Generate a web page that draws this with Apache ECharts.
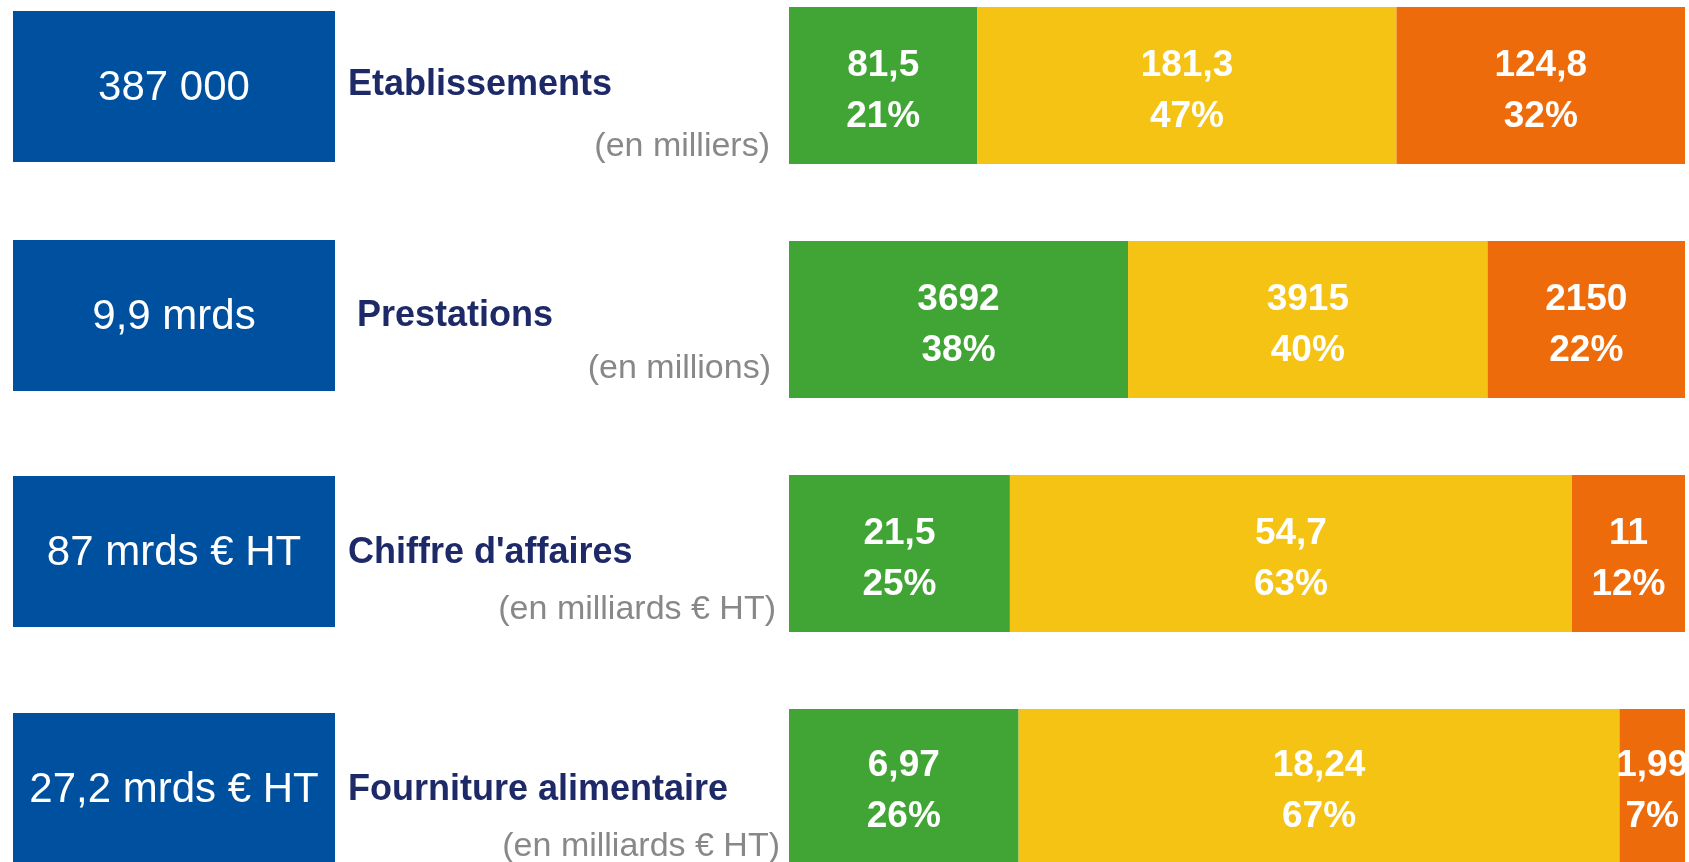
<!DOCTYPE html>
<html>
<head>
<meta charset="utf-8">
<script src="https://cdn.jsdelivr.net/npm/echarts@6/dist/echarts.min.js"></script>
<style>
html, body { margin: 0; padding: 0; background: #fff; }
#main { width: 1689px; height: 862px; }
</style>
</head>
<body>
<div id="main"></div>
<script>
// chiffres clés
var totals = ['387 000', '9,9 mrds', '87 mrds € HT', '27,2 mrds € HT'];
var categories = ['Etablissements', 'Prestations', "Chiffre d'affaires", 'Fourniture alimentaire'];
var units = ['(en milliers)', '(en millions)', '(en milliards € HT)', '(en milliards € HT)'];

// répartition par segment (vert / jaune / orange)
var greenValues = [81.5, 3692, 21.5, 6.97];
var yellowValues = [181.3, 3915, 54.7, 18.24];
var orangeValues = [124.8, 2150, 11, 1.99];
var greenPct = [21, 38, 25, 26];
var yellowPct = [47, 40, 63, 67];
var orangePct = [32, 22, 12, 7];

var FONT = '"Liberation Sans", Arial, sans-serif';
var barTops = [7, 241, 475, 709];
var barHeight = 157;
var boxTops = [11, 240, 476, 713];
var labelY = [85, 316, 553, 790];
var labelX = [348, 357, 348, 348];
var unitY = [147, 369, 610, 847];
var unitX = [770, 771, 776, 780];

var myChart = echarts.init(document.getElementById('main'));

function fmt(v) {
    return String(v).replace('.', ',');
}

var segments = [
    { values: greenValues, pct: greenPct, color: '#41a536' },
    { values: yellowValues, pct: yellowPct, color: '#f5c314' },
    { values: orangeValues, pct: orangePct, color: '#ed6b0b' }
];

var grid = [], xAxis = [], yAxis = [], series = [], graphic = [];

categories.forEach(function(cat, i) {
    var sum = greenValues[i] + yellowValues[i] + orangeValues[i];
    grid.push({ left: 789, right: 4, top: barTops[i], height: barHeight });
    xAxis.push({ type: 'value', gridIndex: i, min: 0, max: sum, show: false });
    yAxis.push({ type: 'category', gridIndex: i, data: [cat], show: false });

    segments.forEach(function(seg) {
        series.push({
            type: 'bar',
            stack: 'row' + i,
            xAxisIndex: i,
            yAxisIndex: i,
            barWidth: '100%',
            data: [seg.values[i]],
            itemStyle: { color: seg.color },
            label: {
                show: true,
                position: 'inside',
                offset: [0, 6],
                color: '#fff',
                fontFamily: FONT,
                fontWeight: 'bold',
                fontSize: 37,
                lineHeight: 51,
                formatter: function(p) {
                    return fmt(p.value) + '\n' + seg.pct[i] + '%';
                }
            }
        });
    });

    // encadré bleu + libellés
    graphic.push({
        type: 'rect',
        shape: { x: 13, y: boxTops[i], width: 322, height: 151 },
        style: { fill: '#0050a0' }
    });
    graphic.push({
        type: 'text',
        x: 174,
        y: boxTops[i] + 77,
        style: {
            text: totals[i],
            fill: '#fff',
            font: '42px ' + FONT,
            textAlign: 'center',
            textVerticalAlign: 'middle'
        }
    });
    graphic.push({
        type: 'text',
        x: labelX[i],
        y: labelY[i],
        style: {
            text: cat,
            fill: '#1e2a68',
            font: 'bold 36px ' + FONT,
            textAlign: 'left',
            textVerticalAlign: 'middle'
        }
    });
    graphic.push({
        type: 'text',
        x: unitX[i],
        y: unitY[i],
        style: {
            text: units[i],
            fill: '#888888',
            font: '34px ' + FONT,
            textAlign: 'right',
            textVerticalAlign: 'middle'
        }
    });
});

option = {
    animation: false,
    grid: grid,
    xAxis: xAxis,
    yAxis: yAxis,
    series: series,
    graphic: graphic
};
myChart.setOption(option);
</script>
</body>
</html>
